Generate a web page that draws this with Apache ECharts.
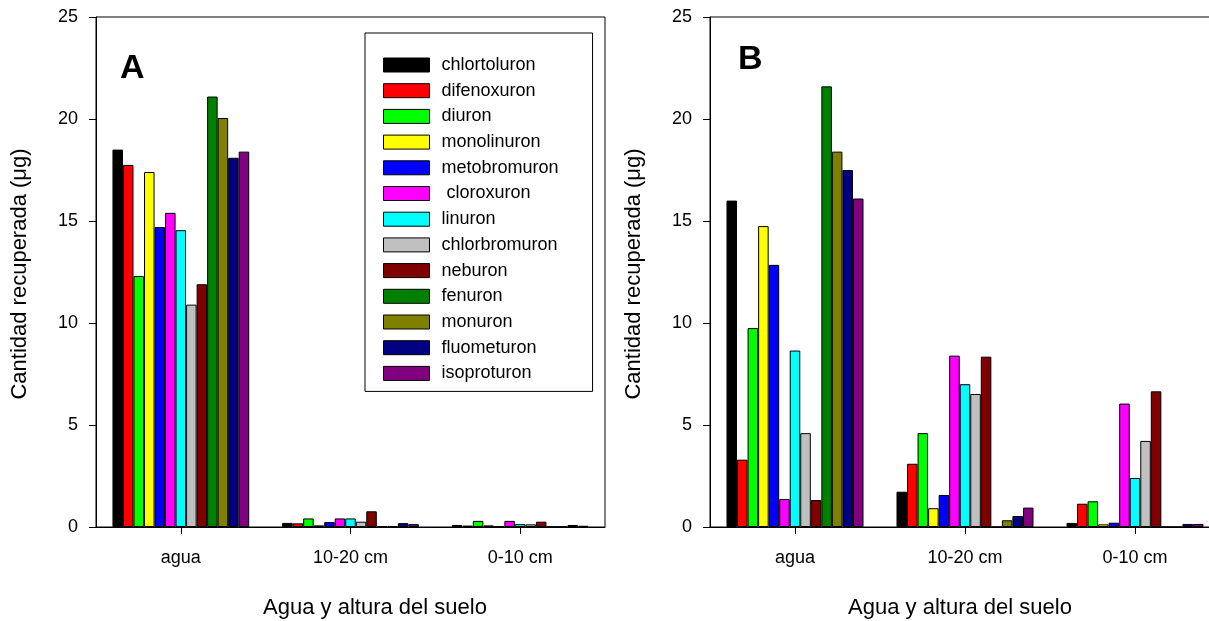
<!DOCTYPE html>
<html>
<head>
<meta charset="utf-8">
<script src="https://cdn.jsdelivr.net/npm/echarts@6/dist/echarts.min.js"></script>
<style>
html,body{margin:0;padding:0;background:#fff;overflow:hidden;width:1209px;height:621px;}
#c{width:1240px;height:621px;}
</style>
</head>
<body>
<div id="c"></div>
<script>
// ---- data ----
var categories = ['agua', '10-20 cm', '0-10 cm'];
var herbicides = ['chlortoluron', 'difenoxuron', 'diuron', 'monolinuron', 'metobromuron', ' cloroxuron', 'linuron', 'chlorbromuron', 'neburon', 'fenuron', 'monuron', 'fluometuron', 'isoproturon'];
var colors = ['#000000', '#ff0000', '#00ff00', '#ffff00', '#0000ff', '#ff00ff', '#00ffff', '#c0c0c0', '#800000', '#008000', '#808000', '#000080', '#800080'];
// Panel A (one value per herbicide, in legend order)
var A_agua = [18.5, 17.75, 12.3, 17.4, 14.7, 15.4, 14.55, 10.9, 11.9, 21.1, 20.05, 18.1, 18.4];
var A_10_20 = [0.2, 0.18, 0.42, 0.08, 0.24, 0.42, 0.42, 0.26, 0.77, 0.03, 0.05, 0.19, 0.14];
var A_0_10 = [0.1, 0.07, 0.3, 0.08, 0.03, 0.3, 0.14, 0.13, 0.26, 0.02, 0.02, 0.1, 0.06];
// Panel B
var B_agua = [16.0, 3.3, 9.75, 14.75, 12.85, 1.37, 8.65, 4.6, 1.32, 21.6, 18.4, 17.5, 16.1];
var B_10_20 = [1.73, 3.1, 4.6, 0.92, 1.57, 8.4, 7.0, 6.52, 8.35, 0, 0.33, 0.54, 0.95];
var B_0_10 = [0.2, 1.14, 1.26, 0.13, 0.21, 6.05, 2.4, 4.22, 6.65, 0, 0, 0.15, 0.15];
var yTicks = [0, 5, 10, 15, 20, 25];
var yTitle = 'Cantidad recuperada (\u03bcg)';
var xTitle = 'Agua y altura del suelo';

var FONT = '"Liberation Sans", Arial, sans-serif';

var chart = echarts.init(document.getElementById('c'), null, {renderer: 'canvas'});

function makeSeries(idx, vals) {
  var out = [];
  for (var i = 0; i < herbicides.length; i++) {
    out.push({
      name: herbicides[i],
      type: 'bar',
      xAxisIndex: idx,
      yAxisIndex: idx,
      data: [vals[0][i], vals[1][i], vals[2][i]],
      barGap: '0%',
      barCategoryGap: '19.4%',
      itemStyle: {color: colors[i], borderColor: '#000', borderWidth: 1},
      emphasis: {disabled: true},
      animation: false
    });
  }
  return out;
}

function xAxis(gi) {
  return {
    type: 'category', gridIndex: gi, data: categories,
    axisLine: {show: true, lineStyle: {color: '#000', width: 1}},
    axisTick: {show: true, alignWithLabel: true, length: 7, lineStyle: {color: '#000'}},
    axisLabel: {color: '#000', fontSize: 18, fontFamily: FONT, margin: 22},
    splitLine: {show: false}
  };
}
function yAxis(gi) {
  return {
    type: 'value', gridIndex: gi, min: 0, max: 25, interval: 5,
    axisLine: {show: true, lineStyle: {color: '#000', width: 1}},
    axisTick: {show: true, length: 7, lineStyle: {color: '#000'}},
    axisLabel: {color: '#000', fontSize: 18, fontFamily: FONT, margin: 18,
      formatter: function (v) { return yTicks.indexOf(v) >= 0 ? String(v) : ''; }},
    splitLine: {show: false}
  };
}

var series = makeSeries(0, [A_agua, A_10_20, A_0_10]).concat(makeSeries(1, [B_agua, B_10_20, B_0_10]));

var titleStyle = {fill: '#000', fontSize: 22, fontFamily: FONT};

chart.setOption({
  animation: false,
  backgroundColor: '#fff',
  color: colors,
  grid: [
    {left: 96, top: 17, width: 509, height: 510, show: true, borderColor: '#000', borderWidth: 1, backgroundColor: 'transparent'},
    {left: 710, top: 17, width: 510, height: 510, show: true, borderColor: '#000', borderWidth: 1, backgroundColor: 'transparent'}
  ],
  xAxis: [xAxis(0), xAxis(1)],
  yAxis: [yAxis(0), yAxis(1)],
  legend: {
    show: true,
    data: herbicides,
    orient: 'vertical',
    left: 365, top: 33,
    padding: [23, 34, 9, 18],
    itemWidth: 46, itemHeight: 14, itemGap: 7.7,
    borderColor: '#000', borderWidth: 1,
    backgroundColor: '#fff',
    icon: 'rect',
    selectedMode: false,
    textStyle: {color: '#000', fontSize: 18, fontFamily: FONT, padding: [0, 0, 0, 7]},
    itemStyle: {borderColor: '#000', borderWidth: 1}
  },
  graphic: [
    {type: 'text', left: 120, top: 52, style: {text: 'A', fill: '#000', fontSize: 34, fontWeight: 'bold', fontFamily: FONT}, z: 100},
    {type: 'text', left: 738, top: 43, style: {text: 'B', fill: '#000', fontSize: 34, fontWeight: 'bold', fontFamily: FONT}, z: 100},
    {type: 'text', x: 20, y: 274, rotation: Math.PI / 2, style: Object.assign({text: yTitle, textAlign: 'center', textVerticalAlign: 'middle'}, titleStyle)},
    {type: 'text', x: 634, y: 274, rotation: Math.PI / 2, style: Object.assign({text: yTitle, textAlign: 'center', textVerticalAlign: 'middle'}, titleStyle)},
    {type: 'text', x: 375, y: 608, style: Object.assign({text: xTitle, textAlign: 'center', textVerticalAlign: 'middle'}, titleStyle)},
    {type: 'text', x: 960, y: 608, style: Object.assign({text: xTitle, textAlign: 'center', textVerticalAlign: 'middle'}, titleStyle)}
  ],
  series: series
});
</script>
</body>
</html>
